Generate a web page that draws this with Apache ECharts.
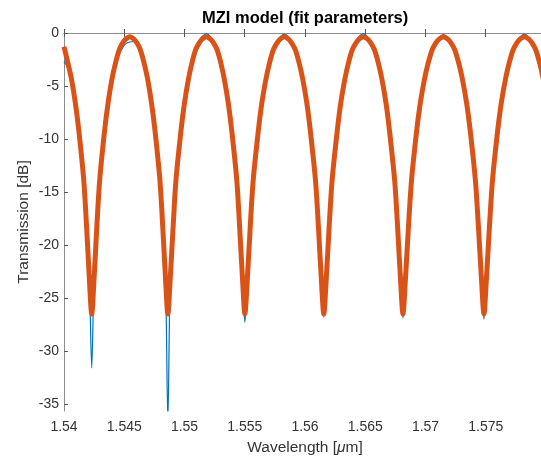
<!DOCTYPE html>
<html>
<head>
<meta charset="utf-8">
<title>MZI model (fit parameters)</title>
<script src="https://cdn.jsdelivr.net/npm/echarts@6.0.0/dist/echarts.min.js"></script>
<style>
  html, body { margin: 0; padding: 0; background: #ffffff; }
  #chart { width: 541px; height: 459px; }
</style>
</head>
<body>
<div id="chart"></div>
<script>
// tick labels
var xTicks = [1.54, 1.545, 1.55, 1.555, 1.56, 1.565, 1.57, 1.575];
var yTicks = [-35, -30, -25, -20, -15, -10, -5, 0];

// wavelength samples [um], one line per half fringe
var wavelength = [
  1.54000, 1.54034, 1.54063, 1.54094, 1.54123, 1.54164, 1.54189, 1.54211, 1.54230,
  1.54249, 1.54271, 1.54296, 1.54337, 1.54366, 1.54397, 1.54426, 1.54458, 1.54486, 1.54514, 1.54546,
  1.54578, 1.54606, 1.54634, 1.54666, 1.54695, 1.54726, 1.54755, 1.54796, 1.54821, 1.54843, 1.54862,
  1.54881, 1.54904, 1.54929, 1.54971, 1.55000, 1.55032, 1.55060, 1.55092, 1.55121, 1.55150, 1.55182,
  1.55213, 1.55242, 1.55271, 1.55303, 1.55331, 1.55363, 1.55392, 1.55434, 1.55459, 1.55482, 1.55501,
  1.55521, 1.55544, 1.55570, 1.55613, 1.55642, 1.55675, 1.55704, 1.55737, 1.55767, 1.55796, 1.55828,
  1.55861, 1.55890, 1.55920, 1.55953, 1.55982, 1.56015, 1.56044, 1.56087, 1.56113, 1.56136, 1.56156,
  1.56176, 1.56199, 1.56225, 1.56268, 1.56297, 1.56330, 1.56359, 1.56392, 1.56422, 1.56451, 1.56485,
  1.56518, 1.56547, 1.56577, 1.56610, 1.56639, 1.56672, 1.56701, 1.56744, 1.56770, 1.56793, 1.56813,
  1.56833, 1.56857, 1.56884, 1.56927, 1.56957, 1.56991, 1.57021, 1.57055, 1.57085, 1.57115, 1.57149,
  1.57183, 1.57213, 1.57243, 1.57277, 1.57307, 1.57341, 1.57371, 1.57414, 1.57441, 1.57465, 1.57485,
  1.57505, 1.57529, 1.57556, 1.57599, 1.57629, 1.57663, 1.57693, 1.57727, 1.57757, 1.57787, 1.57821,
  1.57855, 1.57885, 1.57915, 1.57949, 1.57979, 1.58000
];

// measured transmission [dB] (thin blue)
var measured = [
  -2.7, -3.3, -4.5, -6.6, -9.2, -13.9, -18.6, -23.3, -31.6,
  -23.3, -18.6, -13.9, -9.2, -6.6, -4.3, -3.1, -2.0, -1.4, -1.0, -0.85,
  -0.8, -1.05, -1.6, -2.9, -4.4, -6.6, -9.2, -13.9, -18.6, -23.3, -36.5,
  -23.3, -18.6, -13.9, -9.2, -6.6, -4.4, -2.9, -1.6, -0.7, -0.3, -0.05,
  -0.3, -0.8, -1.6, -2.9, -4.4, -6.6, -9.2, -13.9, -18.6, -23.3, -27.3,
  -23.3, -18.6, -13.9, -9.2, -6.6, -4.4, -2.9, -1.6, -0.8, -0.35, -0.1,
  -0.35, -0.85, -1.6, -2.9, -4.4, -6.6, -9.2, -13.9, -18.6, -23.3, -26.8,
  -23.3, -18.6, -13.9, -9.2, -6.6, -4.4, -2.9, -1.6, -0.8, -0.3, -0.05,
  -0.35, -0.85, -1.6, -2.9, -4.4, -6.6, -9.2, -13.9, -18.6, -23.3, -26.9,
  -23.3, -18.6, -13.9, -9.2, -6.6, -4.4, -2.9, -1.6, -0.85, -0.4, -0.15,
  -0.4, -0.9, -1.6, -2.9, -4.4, -6.6, -9.2, -13.9, -18.6, -23.3, -27.0,
  -23.3, -18.6, -13.9, -9.2, -6.6, -4.4, -2.9, -1.6, -0.85, -0.35, -0.1,
  -0.4, -0.9, -1.6, -2.9, -4.4, -5.4
];

// MZI model fit [dB] (thick orange)
var fitted = [
  -1.3, -2.9, -4.4, -6.6, -9.2, -13.9, -18.6, -23.3, -26.5,
  -23.3, -18.6, -13.9, -9.2, -6.6, -4.4, -2.9, -1.6, -0.95, -0.55, -0.35,
  -0.55, -0.95, -1.6, -2.9, -4.4, -6.6, -9.2, -13.9, -18.6, -23.3, -26.5,
  -23.3, -18.6, -13.9, -9.2, -6.6, -4.4, -2.9, -1.6, -0.95, -0.55, -0.35,
  -0.55, -0.95, -1.6, -2.9, -4.4, -6.6, -9.2, -13.9, -18.6, -23.3, -26.5,
  -23.3, -18.6, -13.9, -9.2, -6.6, -4.4, -2.9, -1.6, -0.95, -0.55, -0.35,
  -0.55, -0.95, -1.6, -2.9, -4.4, -6.6, -9.2, -13.9, -18.6, -23.3, -26.5,
  -23.3, -18.6, -13.9, -9.2, -6.6, -4.4, -2.9, -1.6, -0.95, -0.55, -0.35,
  -0.55, -0.95, -1.6, -2.9, -4.4, -6.6, -9.2, -13.9, -18.6, -23.3, -26.5,
  -23.3, -18.6, -13.9, -9.2, -6.6, -4.4, -2.9, -1.6, -0.95, -0.55, -0.35,
  -0.55, -0.95, -1.6, -2.9, -4.4, -6.6, -9.2, -13.9, -18.6, -23.3, -26.5,
  -23.3, -18.6, -13.9, -9.2, -6.6, -4.4, -2.9, -1.6, -0.95, -0.55, -0.35,
  -0.55, -0.95, -1.6, -2.9, -4.4, -5.4
];

var FONT = "'Liberation Sans', Arial, Helvetica, sans-serif";
var AXIS_GRAY = '#8c8c8c';
var LABEL_GRAY = '#333333';

function zip(xs, ys) {
  return xs.map(function (x, i) { return [x, ys[i]]; });
}

var chart = echarts.init(document.getElementById('chart'), null, { renderer: 'canvas' });

var option = {
  animation: false,
  backgroundColor: '#ffffff',
  title: {
    text: 'MZI model (fit parameters)',
    left: 202,
    top: 10,
    padding: 0,
    textStyle: { fontFamily: FONT, fontSize: 16.5, fontWeight: 'bold', color: '#000000' }
  },
  grid: { left: 64, right: -5, top: 33, bottom: 48, outerBoundsMode: 'none' },
  xAxis: [
    {
      type: 'value',
      position: 'bottom',
      min: 1.54,
      max: 1.58,
      name: '{n|Wavelength [}{i|\u03bc}{n|m]}',
      nameLocation: 'middle',
      nameGap: 29,
      nameMoveOverlap: false,
      nameTextStyle: {
        rich: {
          n: { fontFamily: FONT, fontSize: 15.5, color: LABEL_GRAY },
          i: { fontFamily: FONT, fontSize: 15.5, fontStyle: 'italic', color: LABEL_GRAY }
        }
      },
      axisLine: { show: true, lineStyle: { color: AXIS_GRAY, width: 1 } },
      axisTick: { show: true, inside: true, length: 4, customValues: xTicks, lineStyle: { color: '#555555' } },
      axisLabel: { customValues: xTicks, margin: 9, fontFamily: FONT, fontSize: 14, color: LABEL_GRAY },
      splitLine: { show: false }
    },
    {
      type: 'value',
      position: 'top',
      min: 1.54,
      max: 1.58,
      axisLine: { show: true, lineStyle: { color: AXIS_GRAY, width: 1 } },
      axisTick: { show: true, inside: true, length: 4, customValues: xTicks, lineStyle: { color: '#555555' } },
      axisLabel: { show: false },
      splitLine: { show: false }
    }
  ],
  yAxis: {
    type: 'value',
    min: -35.66,
    max: 0,
    name: 'Transmission [dB]',
    nameLocation: 'middle',
    nameGap: 32,
    nameMoveOverlap: false,
    nameTextStyle: { fontFamily: FONT, fontSize: 15.5, color: LABEL_GRAY },
    axisLine: { show: true, lineStyle: { color: AXIS_GRAY, width: 1 } },
    axisTick: { show: true, inside: true, length: 4, customValues: yTicks, lineStyle: { color: '#555555' } },
    axisLabel: { customValues: yTicks, margin: 5, fontFamily: FONT, fontSize: 14, color: LABEL_GRAY },
    splitLine: { show: false }
  },
  series: [
    {
      name: 'Measured',
      type: 'line',
      data: zip(wavelength, measured),
      symbol: 'none',
      smooth: 0.3,
      clip: true,
      z: 2,
      lineStyle: { color: '#0072BD', width: 1.2 }
    },
    {
      name: 'Fit',
      type: 'line',
      data: zip(wavelength, fitted),
      symbol: 'none',
      smooth: 0.3,
      clip: true,
      z: 3,
      lineStyle: { color: '#D95319', width: 5 }
    }
  ]
};

chart.setOption(option);
</script>
</body>
</html>
